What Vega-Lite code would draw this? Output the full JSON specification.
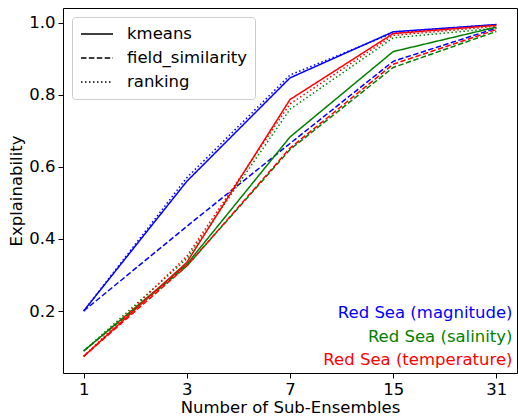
{
  "$schema": "https://vega.github.io/schema/vega-lite/v6.json",
  "width": 454,
  "height": 365,
  "autosize": {"type": "none"},
  "padding": {"left": 63, "top": 8, "right": 1, "bottom": 43},
  "background": "white",
  "config": {
    "font": "DejaVu Sans",
    "view": {"stroke": "black", "strokeWidth": 1},
    "axis": {"grid": false, "domainColor": "black", "tickColor": "black", "labelColor": "black", "titleColor": "black", "labelFontSize": 16.5, "titleFontSize": 16.5, "titleFontWeight": "normal", "tickSize": 5, "labelPadding": 3}
  },
  "data": {"values": [
    {"n": "1", "dataset": "magnitude", "method": "kmeans", "v": 0.200},
    {"n": "3", "dataset": "magnitude", "method": "kmeans", "v": 0.560},
    {"n": "7", "dataset": "magnitude", "method": "kmeans", "v": 0.847},
    {"n": "15", "dataset": "magnitude", "method": "kmeans", "v": 0.975},
    {"n": "31", "dataset": "magnitude", "method": "kmeans", "v": 0.995},
    {"n": "1", "dataset": "magnitude", "method": "field_similarity", "v": 0.200},
    {"n": "3", "dataset": "magnitude", "method": "field_similarity", "v": 0.435},
    {"n": "7", "dataset": "magnitude", "method": "field_similarity", "v": 0.665},
    {"n": "15", "dataset": "magnitude", "method": "field_similarity", "v": 0.893},
    {"n": "31", "dataset": "magnitude", "method": "field_similarity", "v": 0.985},
    {"n": "1", "dataset": "magnitude", "method": "ranking", "v": 0.200},
    {"n": "3", "dataset": "magnitude", "method": "ranking", "v": 0.570},
    {"n": "7", "dataset": "magnitude", "method": "ranking", "v": 0.855},
    {"n": "15", "dataset": "magnitude", "method": "ranking", "v": 0.972},
    {"n": "31", "dataset": "magnitude", "method": "ranking", "v": 0.995},
    {"n": "1", "dataset": "salinity", "method": "kmeans", "v": 0.089},
    {"n": "3", "dataset": "salinity", "method": "kmeans", "v": 0.330},
    {"n": "7", "dataset": "salinity", "method": "kmeans", "v": 0.683},
    {"n": "15", "dataset": "salinity", "method": "kmeans", "v": 0.920},
    {"n": "31", "dataset": "salinity", "method": "kmeans", "v": 0.988},
    {"n": "1", "dataset": "salinity", "method": "field_similarity", "v": 0.089},
    {"n": "3", "dataset": "salinity", "method": "field_similarity", "v": 0.325},
    {"n": "7", "dataset": "salinity", "method": "field_similarity", "v": 0.648},
    {"n": "15", "dataset": "salinity", "method": "field_similarity", "v": 0.876},
    {"n": "31", "dataset": "salinity", "method": "field_similarity", "v": 0.976},
    {"n": "1", "dataset": "salinity", "method": "ranking", "v": 0.089},
    {"n": "3", "dataset": "salinity", "method": "ranking", "v": 0.345},
    {"n": "7", "dataset": "salinity", "method": "ranking", "v": 0.760},
    {"n": "15", "dataset": "salinity", "method": "ranking", "v": 0.958},
    {"n": "31", "dataset": "salinity", "method": "ranking", "v": 0.985},
    {"n": "1", "dataset": "temperature", "method": "kmeans", "v": 0.074},
    {"n": "3", "dataset": "temperature", "method": "kmeans", "v": 0.335},
    {"n": "7", "dataset": "temperature", "method": "kmeans", "v": 0.787},
    {"n": "15", "dataset": "temperature", "method": "kmeans", "v": 0.970},
    {"n": "31", "dataset": "temperature", "method": "kmeans", "v": 0.993},
    {"n": "1", "dataset": "temperature", "method": "field_similarity", "v": 0.074},
    {"n": "3", "dataset": "temperature", "method": "field_similarity", "v": 0.325},
    {"n": "7", "dataset": "temperature", "method": "field_similarity", "v": 0.652},
    {"n": "15", "dataset": "temperature", "method": "field_similarity", "v": 0.885},
    {"n": "31", "dataset": "temperature", "method": "field_similarity", "v": 0.981},
    {"n": "1", "dataset": "temperature", "method": "ranking", "v": 0.074},
    {"n": "3", "dataset": "temperature", "method": "ranking", "v": 0.352},
    {"n": "7", "dataset": "temperature", "method": "ranking", "v": 0.775},
    {"n": "15", "dataset": "temperature", "method": "ranking", "v": 0.965},
    {"n": "31", "dataset": "temperature", "method": "ranking", "v": 0.990}
  ]},
  "mark": {"type": "line", "strokeWidth": 1.5},
  "encoding": {
    "x": {"field": "n", "type": "ordinal", "sort": ["1", "3", "7", "15", "31"],
          "scale": {"type": "point", "padding": 0.2},
          "axis": {"title": "Number of Sub-Ensembles", "labelAngle": 0, "titlePadding": 2, "domain": false}},
    "y": {"field": "v", "type": "quantitative",
          "scale": {"domain": [0.028, 1.041], "nice": false, "zero": false},
          "axis": {"title": "Explainability", "values": [0.2, 0.4, 0.6, 0.8, 1.0], "format": ".1f", "titlePadding": 4, "domain": false}},
    "color": {"field": "dataset", "type": "nominal",
              "scale": {"domain": ["magnitude", "salinity", "temperature"], "range": ["#0000ff", "#008000", "#ff0000"]},
              "legend": {"title": null, "orient": "bottom-right", "offset": 0, "padding": 4,
                         "symbolOpacity": 0, "symbolSize": 0, "symbolStrokeWidth": 0, "labelOffset": 0,
                         "labelAlign": "right", "labelFontSize": 16.5, "rowPadding": 6.5, "labelLimit": 300,
                         "labelExpr": "'Red Sea (' + datum.label + ')'",
                         "encode": {"labels": {"update": {"fill": {"signal": "scale('color', datum.value)"}}}}}},
    "strokeDash": {"field": "method", "type": "nominal",
                   "scale": {"domain": ["kmeans", "field_similarity", "ranking"], "range": [[1, 0], [5.5, 2.4], [1.5, 2.5]]},
                   "legend": {"title": null, "orient": "top-left", "offset": 9, "padding": 8,
                              "strokeColor": "#cccccc", "fillColor": "white", "cornerRadius": 3,
                              "symbolType": "M-1,0H3", "symbolSize": 256, "symbolStrokeColor": "black", "symbolStrokeWidth": 1.5,
                              "labelFontSize": 16.5, "labelColor": "black", "rowPadding": 6, "labelOffset": 29}},
    "detail": {"field": "method"}
  }
}
